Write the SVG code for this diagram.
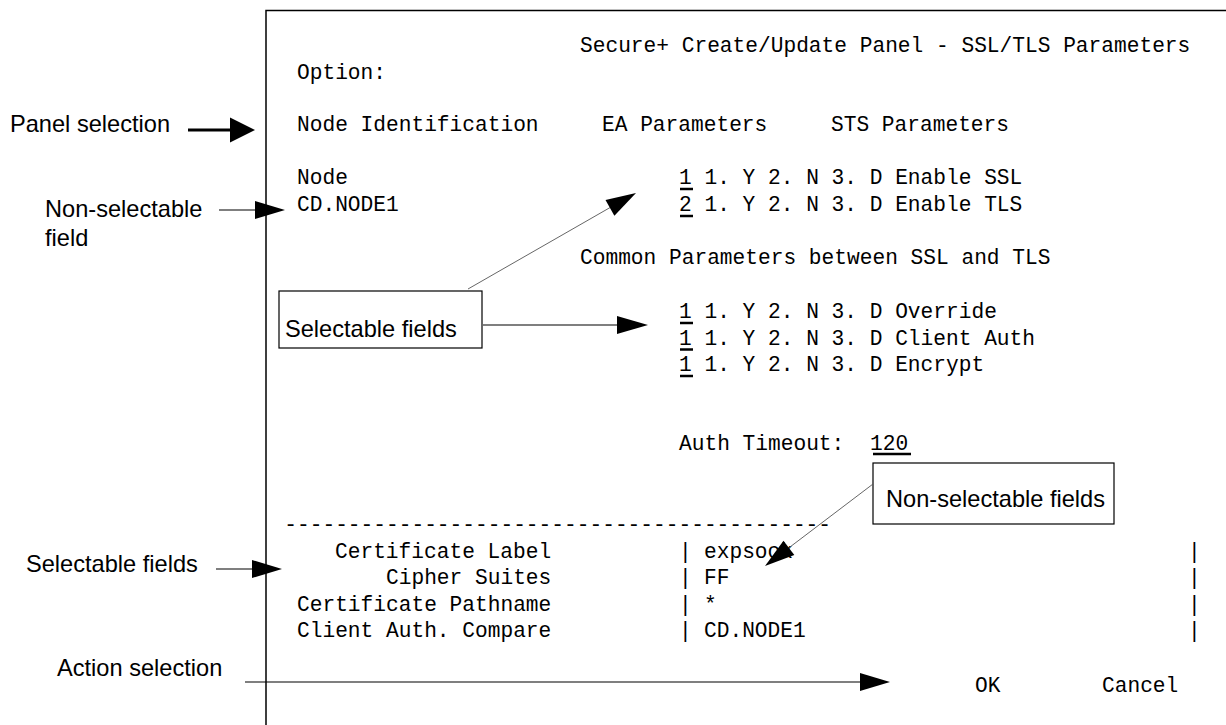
<svg xmlns="http://www.w3.org/2000/svg" width="1226" height="725" viewBox="0 0 1226 725">
<style>
.m{font-family:"Liberation Mono","Courier New",monospace;font-size:21.2px;fill:#000}
.s{font-family:"Liberation Sans",Arial,sans-serif;font-size:23.6px;fill:#000}
.ul{stroke:#000;stroke-width:2.5}
.ln{stroke:#000;stroke-width:1.2;fill:none}
.thin{stroke:#555;stroke-width:0.9;fill:none}
.hd{fill:#000}
.box{fill:#fff;stroke:#000;stroke-width:1.2}
</style>
<rect width="1226" height="725" fill="#fff"/>
<g id="panel">
<path d="M266 725 V10.5 H1226" fill="none" stroke="#000" stroke-width="1.5"/>
<text class="m" x="580" y="52">Secure+ Create/Update Panel - SSL/TLS Parameters</text>
<text class="m" x="297" y="79">Option:</text>
<text class="m" x="297" y="131">Node Identification</text>
<text class="m" x="602" y="131">EA Parameters</text>
<text class="m" x="831" y="131">STS Parameters</text>
<text class="m" x="297" y="184">Node</text>
<text class="m" x="297" y="211">CD.NODE1</text>
<text class="m" x="679" y="184">1 1. Y 2. N 3. D Enable SSL</text>
<text class="m" x="679" y="211">2 1. Y 2. N 3. D Enable TLS</text>
<line class="ul" x1="680" y1="189" x2="693" y2="189"/>
<line class="ul" x1="680" y1="216" x2="693" y2="216"/>
<text class="m" x="580" y="264">Common Parameters between SSL and TLS</text>
<text class="m" x="679" y="318">1 1. Y 2. N 3. D Override</text>
<text class="m" x="679" y="344.5">1 1. Y 2. N 3. D Client Auth</text>
<text class="m" x="679" y="371">1 1. Y 2. N 3. D Encrypt</text>
<line class="ul" x1="680" y1="323" x2="693" y2="323"/>
<line class="ul" x1="680" y1="349.5" x2="693" y2="349.5"/>
<line class="ul" x1="680" y1="376" x2="693" y2="376"/>
<text class="m" x="679" y="450">Auth Timeout:</text>
<text class="m" x="870" y="450">120</text>
<line class="ul" x1="873" y1="454" x2="911" y2="454"/>
<text class="m" x="284.3" y="531">-------------------------------------------</text>
<text class="m" x="335" y="557.5">Certificate Label</text>
<text class="m" x="386" y="584">Cipher Suites</text>
<text class="m" x="297" y="610.5">Certificate Pathname</text>
<text class="m" x="297" y="637">Client Auth. Compare</text>
<text class="m" x="679" y="557.5">|</text>
<text class="m" x="679" y="584">|</text>
<text class="m" x="679" y="610.5">|</text>
<text class="m" x="679" y="637">|</text>
<text class="m" x="704" y="557.5">expsock</text>
<text class="m" x="704" y="584">FF</text>
<text class="m" x="704" y="610.5">*</text>
<text class="m" x="704" y="637">CD.NODE1</text>
<text class="m" x="1188" y="557.5">|</text>
<text class="m" x="1188" y="584">|</text>
<text class="m" x="1188" y="610.5">|</text>
<text class="m" x="1188" y="637">|</text>
<text class="m" x="975" y="692">OK</text>
<text class="m" x="1102" y="692">Cancel</text>
</g>
<g id="label-panel-selection"><text class="s" x="10" y="132">Panel selection</text></g>
<g id="label-non-selectable-field"><text class="s" x="45" y="216.7">Non-selectable</text><text class="s" x="45" y="245.7">field</text></g>
<g id="label-selectable-fields-left"><text class="s" x="26" y="572.3">Selectable fields</text></g>
<g id="label-action-selection"><text class="s" x="57" y="676">Action selection</text></g>
<g id="box-selectable-fields"><rect class="box" x="279" y="291" width="203" height="57"/><text class="s" x="285" y="337">Selectable fields</text></g>
<g id="box-non-selectable-fields"><rect class="box" x="873" y="463" width="241" height="61"/><text class="s" x="886" y="507">Non-selectable fields</text></g>
<g id="connectors">
<line x1="188" y1="130" x2="232" y2="130" stroke="#000" stroke-width="3"/>
<polygon class="hd" points="230,117.5 255,130 230,142.5"/>
<line class="ln" x1="219" y1="210" x2="257" y2="210"/>
<polygon class="hd" points="255,201 285,210 255,219"/>
<line class="ln" x1="216" y1="569" x2="254" y2="569"/>
<polygon class="hd" points="252,560 282,569 252,578"/>
<line class="ln" x1="245" y1="682" x2="862" y2="682"/>
<polygon class="hd" points="860,673 890,682 860,691"/>
<line class="ln" x1="483" y1="325" x2="619" y2="325"/>
<polygon class="hd" points="617,316 648,325 617,334"/>
<line class="thin" x1="468" y1="289" x2="611" y2="207"/>
<polygon class="hd" points="636,193 605.5,200.1 614.4,215.7"/>
<line class="thin" x1="873" y1="484" x2="788" y2="548.5"/>
<polygon class="hd" points="765,566 783.5,540.7 794.3,555.1"/>
</g>
</svg>
